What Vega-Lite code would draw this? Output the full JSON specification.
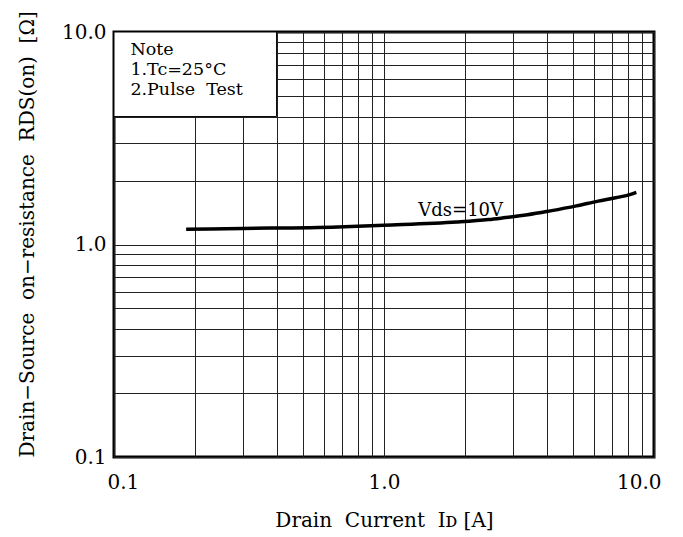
{
  "$schema": "https://vega.github.io/schema/vega-lite/v6.json",
  "autosize": {"type": "none"},
  "padding": {"left": 114, "top": 32, "right": 29, "bottom": 80},
  "width": 540,
  "height": 425,
  "background": "white",
  "config": {
    "view": {"stroke": "black", "strokeWidth": 3},
    "axis": {
      "labelFont": "DejaVu Serif",
      "titleFont": "DejaVu Serif",
      "labelFontSize": 20,
      "titleFontSize": 20,
      "labelColor": "black",
      "titleColor": "black",
      "titleFontWeight": "normal",
      "ticks": false,
      "domain": false,
      "grid": true,
      "gridColor": "#222",
      "gridWidth": 1,
      "gridOpacity": 1,
      "labelOverlap": false,
      "labelBound": false
    }
  },
  "datasets": {
    "curve": [
      {"x": 0.185, "y": 1.18},
      {"x": 0.3, "y": 1.19},
      {"x": 0.675, "y": 1.21},
      {"x": 1.0, "y": 1.232},
      {"x": 1.86, "y": 1.275},
      {"x": 2.44, "y": 1.31},
      {"x": 2.77, "y": 1.335},
      {"x": 3.4, "y": 1.38},
      {"x": 4.13, "y": 1.44},
      {"x": 5.16, "y": 1.52},
      {"x": 6.21, "y": 1.6},
      {"x": 7.21, "y": 1.66},
      {"x": 8.19, "y": 1.72},
      {"x": 8.6, "y": 1.76}
    ],
    "notebox": [{"x": 0.1, "x2": 0.4, "y": 10, "y2": 4}],
    "notes": [
      {"x": 0.115, "y": 7.8, "label": "Note"},
      {"x": 0.115, "y": 6.25, "label": "1.Tc=25°C"},
      {"x": 0.115, "y": 5.05, "label": "2.Pulse\u00a0\u00a0Test"}
    ],
    "curvelabel": [{"x": 1.34, "y": 1.365, "label": "Vds=10V"}]
  },
  "encoding": {
    "x": {
      "field": "x",
      "type": "quantitative",
      "scale": {"type": "log", "domain": [0.1, 10], "nice": false},
      "axis": {
        "title": "Drain\u00a0\u00a0Current\u00a0\u00a0Iᴅ\u00a0[A]",
        "values": [0.1, 0.2, 0.3, 0.4, 0.5, 0.6, 0.7, 0.8, 0.9, 1, 2, 3, 4, 5, 6, 7, 8, 9, 10],
        "labelExpr": "datum.value == 0.1 || datum.value == 1 || datum.value == 10 ? format(datum.value, '.1f') : ''",
        "labelFlush": true,
        "labelFlushOffset": 7,
        "labelPadding": 15,
        "titlePadding": 18
      }
    },
    "y": {
      "field": "y",
      "type": "quantitative",
      "scale": {"type": "log", "domain": [0.1, 10], "nice": false},
      "axis": {
        "title": "Drain−Source\u00a0\u00a0on−resistance\u00a0\u00a0RDS(on)\u00a0\u00a0[Ω]",
        "values": [0.1, 0.2, 0.3, 0.4, 0.5, 0.6, 0.7, 0.8, 0.9, 1, 2, 3, 4, 5, 6, 7, 8, 9, 10],
        "labelExpr": "datum.value == 0.1 || datum.value == 1 || datum.value == 10 ? format(datum.value, '.1f') : ''",
        "labelFlush": false,
        "labelPadding": 8,
        "titlePadding": 24,
        "titleAnchor": "start"
      }
    }
  },
  "layer": [
    {
      "data": {"name": "notebox"},
      "mark": {"type": "rect", "fill": "white", "stroke": "black", "strokeWidth": 1},
      "encoding": {"x2": {"field": "x2"}, "y2": {"field": "y2"}}
    },
    {
      "data": {"name": "notes"},
      "mark": {"type": "text", "align": "left", "baseline": "alphabetic", "font": "DejaVu Serif", "fontSize": 17.5, "color": "black"},
      "encoding": {"text": {"field": "label"}}
    },
    {
      "data": {"name": "curve"},
      "mark": {"type": "line", "color": "black", "strokeWidth": 3.5, "interpolate": "monotone"}
    },
    {
      "data": {"name": "curvelabel"},
      "mark": {"type": "text", "align": "left", "baseline": "alphabetic", "font": "DejaVu Serif", "fontSize": 18, "color": "black"},
      "encoding": {"text": {"field": "label"}}
    }
  ]
}
